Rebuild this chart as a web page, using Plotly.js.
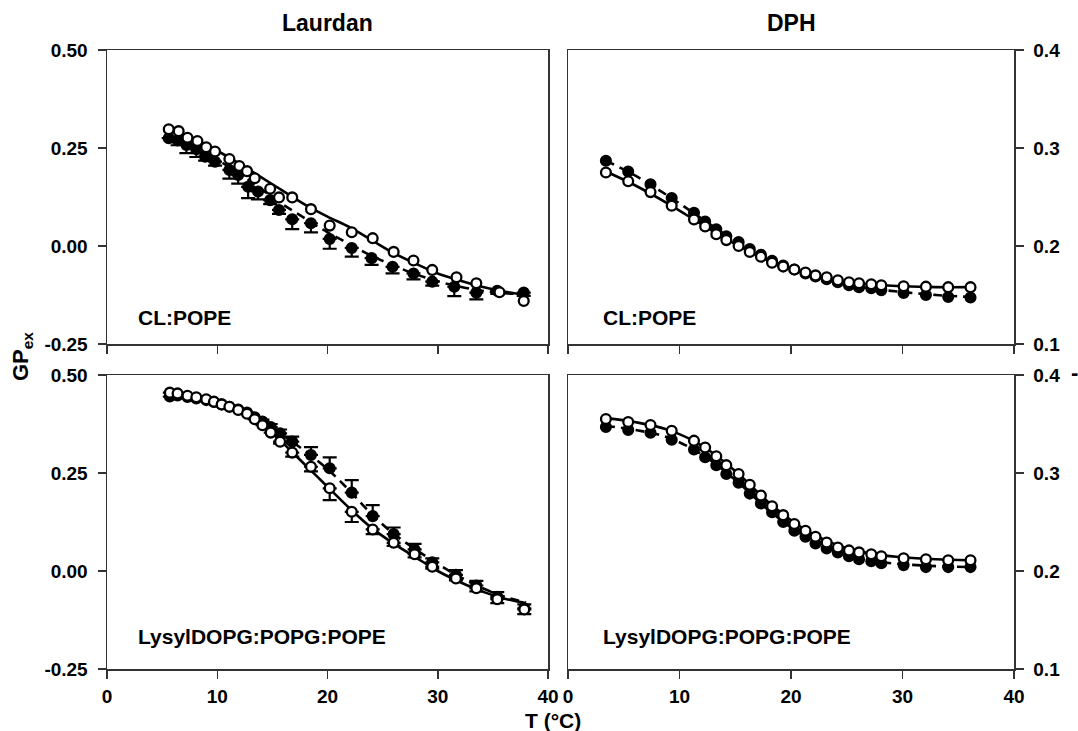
<!DOCTYPE html>
<html>
<head>
<meta charset="utf-8">
<script src="https://cdn.plot.ly/plotly-3.0.1.min.js"></script>
<style>html,body{margin:0;padding:0;background:#fff;}#chart{width:1078px;height:731px;}</style>
</head>
<body>
<div id="chart"></div>
<script>
// ---------- Laurdan, CL:POPE (top-left) ----------
const lauClOpenT  = [5.6,6.5,7.3,8.2,9.0,9.8,11.1,12.0,12.7,13.4,14.8,15.6,16.8,18.5,20.2,22.2,24.1,26.0,27.8,29.5,31.7,33.5,35.6,37.8];
const lauClOpenGP = [0.298,0.293,0.276,0.268,0.252,0.241,0.222,0.204,0.191,0.173,0.146,0.124,0.124,0.094,0.052,0.035,0.020,-0.015,-0.037,-0.061,-0.080,-0.095,-0.118,-0.140];
const lauClFillT  = [5.6,6.4,7.2,8.1,8.9,9.8,11.1,11.9,12.8,13.7,14.8,15.6,16.8,18.5,20.2,22.2,24.0,25.9,27.8,29.5,31.5,33.5,35.4,37.8];
const lauClFillGP = [0.275,0.269,0.258,0.247,0.228,0.215,0.194,0.181,0.151,0.139,0.117,0.092,0.068,0.058,0.018,-0.005,-0.031,-0.053,-0.070,-0.091,-0.104,-0.119,-0.114,-0.119];
const lauClFillErr= [0,0.012,0.021,0.020,0.010,0.010,0.022,0.022,0.029,0.020,0.010,0.010,0.025,0.023,0.025,0.022,0.017,0.017,0.015,0.010,0.024,0.017,0.008,0.008];
const lauClFitT   = [5.6,8,10,12,14,16,18,20,22,24,26,28,30,32,34,36,38];
const lauClFitOpen= [0.300,0.270,0.243,0.210,0.175,0.140,0.105,0.075,0.048,0.015,-0.018,-0.045,-0.070,-0.088,-0.104,-0.116,-0.125];
const lauClFitFill= [0.280,0.250,0.220,0.185,0.145,0.105,0.070,0.035,0.005,-0.025,-0.050,-0.072,-0.090,-0.104,-0.114,-0.120,-0.123];

// ---------- DPH, CL:POPE (top-right) ----------
const dphT        = [3.4,5.4,7.4,9.3,11.3,12.3,13.3,14.2,15.3,16.3,17.3,18.3,19.3,20.3,21.3,22.2,23.2,24.2,25.2,26.1,27.2,28.1,30.1,32.1,34.1,36.1];
const dphClOpen   = [0.275,0.266,0.255,0.241,0.227,0.220,0.212,0.206,0.200,0.194,0.189,0.183,0.179,0.176,0.173,0.170,0.168,0.165,0.163,0.162,0.161,0.160,0.159,0.1585,0.158,0.158];
const dphClFill   = [0.287,0.276,0.263,0.249,0.234,0.225,0.217,0.210,0.204,0.197,0.191,0.185,0.180,0.176,0.172,0.169,0.166,0.163,0.160,0.158,0.157,0.155,0.152,0.150,0.148,0.1475];
const dphFitT     = [3.4,6,9,12,15,18,21,24,27,30,33,36];
const dphClFitOpen= [0.276,0.262,0.243,0.222,0.202,0.185,0.173,0.165,0.161,0.159,0.158,0.158];
const dphClFitFill= [0.287,0.272,0.251,0.228,0.205,0.186,0.173,0.163,0.157,0.153,0.150,0.148];

// ---------- Laurdan, LysylDOPG:POPG:POPE (bottom-left) ----------
const lauLyT      = [5.7,6.4,7.3,8.1,9.0,9.7,10.4,11.1,11.9,12.7,13.4,14.1,14.85,15.7,16.8,18.5,20.2,22.2,24.1,26.0,27.9,29.5,31.65,33.5,35.4,37.85];
const lauLyOpen   = [0.455,0.453,0.447,0.443,0.438,0.432,0.425,0.419,0.411,0.401,0.387,0.372,0.353,0.330,0.302,0.266,0.211,0.151,0.106,0.072,0.043,0.011,-0.019,-0.044,-0.072,-0.098];
const lauLyOpenErr= [0,0,0,0,0,0,0,0,0,0,0,0,0,0.005,0.010,0.012,0.030,0.026,0.012,0.008,0.008,0.005,0.005,0.008,0.010,0.012];
const lauLyFill   = [0.445,0.448,0.444,0.440,0.436,0.431,0.425,0.419,0.412,0.404,0.392,0.381,0.367,0.351,0.330,0.296,0.262,0.200,0.140,0.094,0.055,0.022,-0.010,-0.037,-0.066,-0.095];
const lauLyFillErr= [0,0,0,0,0,0,0,0,0,0,0,0.005,0.008,0.010,0.013,0.020,0.028,0.032,0.028,0.017,0.014,0.010,0.012,0.012,0.012,0.010];
const lauLyFitT   = [5.7,8,10,12,14,16,18,20,22,24,26,28,30,32,34,36,38];
const lauLyFitOpen= [0.456,0.445,0.430,0.410,0.375,0.325,0.270,0.215,0.160,0.110,0.070,0.035,0.000,-0.028,-0.052,-0.070,-0.082];
const lauLyFitFill= [0.452,0.442,0.430,0.410,0.380,0.345,0.305,0.260,0.205,0.145,0.095,0.055,0.018,-0.015,-0.043,-0.065,-0.080];

// ---------- DPH, LysylDOPG:POPG:POPE (bottom-right) ----------
const dphLyOpen   = [0.355,0.352,0.349,0.343,0.333,0.326,0.317,0.308,0.299,0.288,0.277,0.266,0.257,0.248,0.241,0.235,0.229,0.224,0.221,0.219,0.217,0.215,0.213,0.212,0.211,0.211];
const dphLyFill   = [0.347,0.344,0.341,0.334,0.324,0.316,0.308,0.299,0.290,0.279,0.269,0.260,0.250,0.241,0.235,0.228,0.223,0.219,0.215,0.212,0.210,0.208,0.206,0.204,0.204,0.204];
const dphLyFitOpen= [0.356,0.352,0.344,0.328,0.302,0.270,0.244,0.227,0.218,0.214,0.212,0.211];
const dphLyFitFill= [0.348,0.344,0.336,0.319,0.293,0.262,0.237,0.221,0.211,0.207,0.205,0.204];

// ---------- labels ----------
const colTitles   = ['Laurdan','DPH'];
const rowLabels   = ['CL:POPE','LysylDOPG:POPG:POPE'];
const xTicks      = [0,10,20,30,40];
const leftTicks   = [-0.25,0,0.25,0.5];
const leftTickTxt = ['-0.25','0.00','0.25','0.50'];
const rightTicks  = [0.1,0.2,0.3,0.4];
const rightTickTxt= ['0.1','0.2','0.3','0.4'];
const yTitle      = 'GP<sub>ex</sub>';
const xTitle      = 'T (°C)';
const cutLabel    = '-';

const FONT = 'Liberation Sans, Arial, Helvetica, sans-serif';
const LW = 2.6;

function fit(x, y, ax, dashed) {
  return {x:x, y:y, xaxis:'x'+ax, yaxis:'y'+ax, mode:'lines', type:'scatter', hoverinfo:'skip',
    line:{color:'#000', width:LW, shape:'spline', dash: dashed ? '9px,6px' : 'solid'}, showlegend:false};
}
function pts(x, y, ax, filled, errUp, errDown) {
  const t = {x:x, y:y, xaxis:'x'+ax, yaxis:'y'+ax, mode:'markers', type:'scatter', showlegend:false,
    marker:{size:9.8, symbol:'circle', color: filled ? '#000' : '#fff', line:{color:'#000', width:2.3}}};
  if (errUp || errDown) {
    const z = x.map(()=>0);
    t.error_y = {type:'data', symmetric:false, array: errUp || z, arrayminus: errDown || z,
      color:'#000', thickness:2.2, width:7, visible:true};
  }
  return t;
}

const data = [
  fit(lauClFitT, lauClFitFill, '', true),
  fit(lauClFitT, lauClFitOpen, '', false),
  pts(lauClFillT, lauClFillGP, '', true, null, lauClFillErr),
  pts(lauClOpenT, lauClOpenGP, '', false),

  fit(dphFitT, dphClFitFill, '2', true),
  fit(dphFitT, dphClFitOpen, '2', false),
  pts(dphT, dphClFill, '2', true),
  pts(dphT, dphClOpen, '2', false),

  fit(lauLyFitT, lauLyFitFill, '3', true),
  fit(lauLyFitT, lauLyFitOpen, '3', false),
  pts(lauLyT, lauLyFill, '3', true, lauLyFillErr, null),
  pts(lauLyT, lauLyOpen, '3', false, null, lauLyOpenErr),

  fit(dphFitT, dphLyFitFill, '4', true),
  fit(dphFitT, dphLyFitOpen, '4', false),
  pts(dphT, dphLyFill, '4', true),
  pts(dphT, dphLyOpen, '4', false)
];

const W = 1078, H = 731;
const px = v => v / W, py = v => 1 - v / H;
const xdomL = [px(107), px(548)], xdomR = [px(568), px(1014)];
const ydomT = [py(344), py(50)], ydomB = [py(669), py(375)];

const tickFont = {family: FONT, size: 19, weight: 'bold', color: '#000'};
function xax(dom, anchor, labels) {
  return {domain: dom, anchor: anchor, range: [0, 40], tickvals: xTicks, ticktext: xTicks.map(String),
    showticklabels: labels, ticks: 'outside', ticklen: 8, tickwidth: 1.5, tickcolor: '#333',
    showline: true, linecolor: '#333', linewidth: 1.5, mirror: true, showgrid: false, zeroline: false,
    tickfont: tickFont, ticklabelstandoff: 2, fixedrange: true};
}
function yax(dom, anchor, right) {
  return {domain: dom, anchor: anchor, side: right ? 'right' : 'left',
    range: right ? [0.1, 0.4] : [-0.25, 0.5],
    tickvals: right ? rightTicks : leftTicks, ticktext: right ? rightTickTxt : leftTickTxt,
    ticks: 'outside', ticklen: 8, tickwidth: 1.5, tickcolor: '#333',
    showline: true, linecolor: '#333', linewidth: 1.5, mirror: true, showgrid: false, zeroline: false,
    tickfont: tickFont, ticklabelstandoff: 6, fixedrange: true};
}

function ann(text, x, y, size, opts) {
  return Object.assign({text: text, xref: 'paper', yref: 'paper', x: x, y: y, showarrow: false,
    font: {family: FONT, size: size, weight: 'bold', color: '#000'}, xanchor: 'center', yanchor: 'middle'}, opts || {});
}

const layout = {
  width: W, height: H, margin: {l: 0, r: 0, t: 0, b: 0},
  paper_bgcolor: '#fff', plot_bgcolor: '#fff', showlegend: false,
  xaxis: xax(xdomL, 'y', false), yaxis: yax(ydomT, 'x', false),
  xaxis2: xax(xdomR, 'y2', false), yaxis2: yax(ydomT, 'x2', true),
  xaxis3: xax(xdomL, 'y3', true), yaxis3: yax(ydomB, 'x3', false),
  xaxis4: xax(xdomR, 'y4', true), yaxis4: yax(ydomB, 'x4', true),
  annotations: [
    ann(colTitles[0], px(327), py(23), 23),
    ann(colTitles[1], px(791), py(23), 23),
    ann(rowLabels[0], px(136), py(317), 21, {xanchor: 'left'}),
    ann(rowLabels[0], px(601), py(317), 21, {xanchor: 'left'}),
    ann(rowLabels[1], px(136), py(636), 21, {xanchor: 'left'}),
    ann(rowLabels[1], px(601), py(636), 21, {xanchor: 'left'}),
    ann(yTitle, px(22), py(357), 22, {textangle: -90}),
    ann(xTitle, px(553), py(720), 21),
    ann(cutLabel, px(1074), py(372), 22)
  ]
};

Plotly.newPlot('chart', data, layout, {staticPlot: true, displayModeBar: false});
</script>
</body>
</html>
